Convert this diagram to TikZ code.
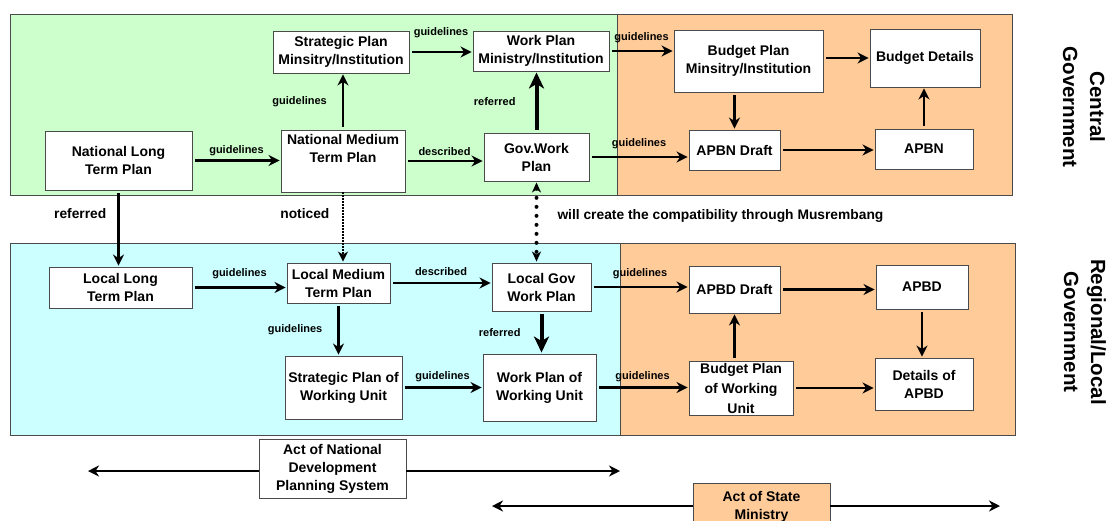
\documentclass[tikz,border=0pt]{standalone}
\usepackage{fontspec}
\setmainfont{Liberation Sans}
\usetikzlibrary{arrows.meta,positioning}
\definecolor{cgreen}{HTML}{CCFFCC}
\definecolor{ccyan}{HTML}{CCFFFF}
\definecolor{corange}{HTML}{FFCC99}
\definecolor{rim}{HTML}{4A4A4A}
\tikzset{panel/.style={draw=rim,line width=.9pt}, box/.style={draw=rim,fill=white,line width=.9pt,align=center,inner sep=2pt,font=\bfseries\fontsize{14}{18}\selectfont}, sz/.style 2 args={minimum width=#1pt,minimum height=#2pt}, lbl/.style={font=\bfseries\fontsize{11}{13}\selectfont,inner sep=1pt}, note/.style={font=\bfseries\fontsize{13.8}{16}\selectfont,inner sep=1pt}, side/.style={font=\bfseries\fontsize{20.5}{27}\selectfont,align=center,rotate=-90}, tip/.style={line width=2.3pt}, flow/.style={tip,-{Stealth[length=11pt,width=11pt,inset=3.5pt]},shorten <=3pt,shorten >=1pt}, bigflow/.style={line width=4pt,-{Stealth[length=16pt,width=15pt,inset=4.5pt]},shorten <=3pt,shorten >=1pt}, dotflow/.style={line width=1.2pt,dash pattern=on 1.2pt off 1.8pt,-{Stealth[length=10pt,width=10pt,inset=3pt]},shorten >=1pt}, dotboth/.style={line width=4pt,line cap=round,dash pattern=on 0pt off 9pt,{Stealth[length=10pt,width=9pt,inset=3pt]}-{Stealth[length=10pt,width=9pt,inset=3pt]},shorten <=1pt,shorten >=1pt}, leftend/.style={tip,{Stealth[length=11pt,width=11pt,inset=3.5pt]}-}, rightend/.style={tip,-{Stealth[length=11pt,width=11pt,inset=3.5pt]}}}

\begin{document}
\begin{tikzpicture}[x=1pt,y=-1pt]
\clip (0,0) rectangle (1110,520);
% regions
\draw[panel,fill=cgreen] (10,14) rectangle (617,195);
\draw[panel,fill=corange] (617,14) rectangle (1012,195);
\draw[panel,fill=ccyan] (10,243) rectangle (620,435);
\draw[panel,fill=corange] (620,243) rectangle (1015,435);
% central level
\node[box,sz={147}{59}] (nltp) at (118.5,160.5) {National Long\\Term Plan};
\node[box,sz={124}{62}] (nmtp) at (343,161) {National Medium\\Term Plan\\[8pt]};
\node[box,sz={136}{42}] (strat) at (341,52) {Strategic Plan\\Minsitry/Institution};
\node[box,sz={136}{40}] (wp) at (541,51) {Work Plan\\Ministry/Institution};
\node[box,sz={105}{48}] (gov) at (536.5,157) {Gov.Work\\Plan};
\node[box,sz={149}{62}] (bp) at (748.5,61) {Budget Plan\\Minsitry/Institution};
\node[box,sz={110}{58}] (bd) at (925,58) {Budget Details};
\node[box,sz={91}{40}] (apbnd) at (734.5,150) {APBN Draft};
\node[box,sz={98}{40}] (apbn) at (924,149) {APBN};
% local level
\node[box,sz={143}{41}] (llt) at (120.5,287.5) {Local Long\\Term Plan};
\node[box,sz={103}{40}] (lmt) at (338.5,283) {Local Medium\\Term Plan};
\node[box,sz={99}{48}] (lgov) at (541.5,287) {Local Gov\\Work Plan};
\node[box,sz={117}{63}] (spu) at (343.5,387.5) {Strategic Plan of\\Working Unit};
\node[box,sz={113}{67}] (wpu) at (539.5,387.5) {Work Plan of\\Working Unit};
\node[box,sz={91}{47}] (apbdd) at (734.5,289.5) {APBD Draft};
\node[box,sz={92}{44}] (apbd) at (922,287) {APBD};
\node[box,sz={104}{54},inner ysep=0pt,font=\bfseries\fontsize{14}{20}\selectfont] (bpu) at (741,388) {Budget Plan\\of Working\\Unit};
\node[box,sz={98}{52}] (dapbd) at (924,384) {Details of\\APBD};
% acts
\node[box,sz={147}{59}] (actn) at (332.5,468.5) {Act of National\\Development\\Planning System};
\node[box,sz={137}{47},fill=corange] (acts) at (761.5,506.5) {Act of State\\Ministry};
\coordinate (nl) at (88,471);
\coordinate (nr) at (620,471);
\coordinate (sl) at (492,506);
\coordinate (sr) at (1000,506);
\node[side] (cg) at (1084,107) {Central\\Government};
\node[side] (rg) at (1085,332) {Regional/Local\\Government};
% central arrows
\draw[flow] (nltp.east) -- (nltp.east -| nmtp.west) node[lbl,midway,above=3pt] {guidelines};
\draw[flow] (nmtp.north) -- (nmtp.north |- strat.south) node[lbl,midway,left=14pt] {guidelines};
\draw[flow] (strat.east) -- (strat.east -| wp.west) node[lbl,midway,above=12pt] {guidelines};
\draw[flow] (nmtp.east) -- (nmtp.east -| gov.west) node[lbl,midway,above=3pt] {described};
\draw[bigflow] (gov.north) -- (gov.north |- wp.south) node[lbl,midway,left=18pt] {referred};
\draw[flow] (wp.east) -- (wp.east -| bp.west) node[lbl,midway,above=6pt] {guidelines};
\draw[flow] (gov.east) -- (gov.east -| apbnd.west) node[lbl,midway,above=6pt] {guidelines};
\draw[flow] (bp.east |- bd.west) -- (bd.west);
\draw[flow] (apbnd.north |- bp.south) -- (apbnd.north);
\draw[flow] (apbnd.east) -- (apbnd.east -| apbn.west);
\draw[flow] (apbn.north) -- (apbn.north |- bd.south);
% between levels
\draw[flow] (nltp.south) -- (nltp.south |- llt.north) node[note,pos=.3,left=10pt] {referred};
\draw[dotflow] (nmtp.south) -- (nmtp.south |- lmt.north) node[note,pos=.3,left=12pt] {noticed};
\draw[dotboth] (gov.south) -- (gov.south |- lgov.north) node[note,pos=.42,right=18pt,anchor=west] {will create the compatibility through Musrembang};
% local arrows
\draw[flow] (llt.east) -- (llt.east -| lmt.west) node[lbl,midway,above=7pt] {guidelines};
\draw[flow] (lmt.east) -- (lmt.east -| lgov.west) node[lbl,midway,above=5pt] {described};
\draw[flow] (lmt.south) -- (lmt.south |- spu.north) node[lbl,midway,left=14pt] {guidelines};
\draw[bigflow] (lgov.south) -- (lgov.south |- wpu.north) node[lbl,midway,left=18pt] {referred};
\draw[flow] (spu.east) -- (spu.east -| wpu.west) node[lbl,midway,above=4pt] {guidelines};
\draw[flow] (lgov.east) -- (lgov.east -| apbdd.west) node[lbl,midway,above=6pt] {guidelines};
\draw[flow] (wpu.east) -- (wpu.east -| bpu.west) node[lbl,midway,above=4pt] {guidelines};
\draw[flow] (apbdd.east) -- (apbdd.east -| apbd.west);
\draw[flow] (apbdd.south |- bpu.north) -- (apbdd.south);
\draw[flow] (apbd.south) -- (apbd.south |- dapbd.north);
\draw[flow] (bpu.east) -- (bpu.east -| dapbd.west);
% act ranges
\draw[leftend] (nl) -- (nl -| actn.west);
\draw[rightend] (nr -| actn.east) -- (nr);
\draw[leftend] (sl) -- (sl -| acts.west);
\draw[rightend] (sr -| acts.east) -- (sr);
\end{tikzpicture}
\end{document}
